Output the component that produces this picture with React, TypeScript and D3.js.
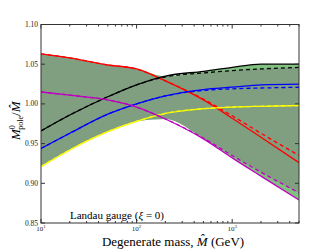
import React, { useRef, useEffect } from 'react';
import * as d3 from 'd3';

// degenerate mass samples (GeV)
const masses = [10, 20, 50, 100, 200, 500, 1000, 2000, 5000];

const redSolid = [1.063, 1.058, 1.049, 1.044, 1.029, 1.005, 0.982, 0.958, 0.926];
const redDashed = [1.063, 1.058, 1.049, 1.044, 1.029, 1.006, 0.985, 0.963, 0.935];
const blackSolid = [0.966, 0.986, 1.009, 1.024, 1.035, 1.041, 1.046, 1.050, 1.050];
const blackDashed = [0.966, 0.986, 1.009, 1.024, 1.034, 1.039, 1.042, 1.044, 1.046];
const blueSolid = [0.944, 0.963, 0.987, 1.0, 1.01, 1.018, 1.021, 1.024, 1.025];
const blueDashed = [0.944, 0.963, 0.987, 1.0, 1.01, 1.017, 1.019, 1.020, 1.021];
const yellowSolid = [0.921, 0.942, 0.965, 0.978, 0.988, 0.994, 0.996, 0.997, 0.998];
const yellowDashed = [0.921, 0.942, 0.965, 0.978, 0.988, 0.994, 0.996, 0.997, 0.998];
const magentaSolid = [1.015, 1.011, 1.005, 0.996, 0.981, 0.956, 0.932, 0.909, 0.879];
const magentaDashed = [1.015, 1.011, 1.005, 0.996, 0.981, 0.957, 0.935, 0.914, 0.888];

const yTicks = [0.85, 0.9, 0.95, 1.0, 1.05, 1.1];
const xTicks = [10, 100, 1000];
const xTickExp = ['1', '2', '3'];

const series = [
  { color: '#ff0000', solid: redSolid, dashed: redDashed },
  { color: '#000000', solid: blackSolid, dashed: blackDashed },
  { color: '#0000ff', solid: blueSolid, dashed: blueDashed },
  { color: '#ffff00', solid: yellowSolid, dashed: yellowDashed },
  { color: '#bf00bf', solid: magentaSolid, dashed: magentaDashed },
];

const Chart = () => {
  const ref = useRef<SVGSVGElement>(null);

  useEffect(() => {
    const svg = d3.select(ref.current);
    svg.selectAll('*').remove();
    const margin = { top: 24.5, right: 33, bottom: 26, left: 41 };
    const width = 332 - margin.left - margin.right;
    const height = 249 - margin.top - margin.bottom;

    const x = d3.scaleLog().domain([10, 5000]).range([0, width]);
    const y = d3.scaleLinear().domain([0.85, 1.1]).range([height, 0]);

    const g = svg.append('g').attr('transform', `translate(${margin.left},${margin.top})`);
    svg.append('defs').append('clipPath').attr('id', 'clip')
      .append('rect').attr('width', width).attr('height', height);

    const plot = g.append('g').attr('clip-path', 'url(#clip)');
    const curve = d3.curveMonotoneX;

    const band = (key: 'solid' | 'dashed') =>
      masses.map((m, i) => ({
        m,
        hi: d3.max(series, s => s[key][i]) as number,
        lo: d3.min(series, s => s[key][i]) as number,
      }));

    const area = d3.area<{ m: number; hi: number; lo: number }>()
      .x(d => x(d.m))
      .y0(d => y(d.lo))
      .y1(d => y(d.hi))
      .curve(curve);

    plot.append('path').attr('d', area(band('solid'))).attr('fill', '#80c080');
    plot.append('path').attr('d', area(band('dashed'))).attr('fill', '#7f9f80');

    const line = d3.line<number>()
      .x((_, i) => x(masses[i]))
      .y(d => y(d))
      .curve(curve);

    series.forEach(s => {
      plot.append('path').attr('d', line(s.dashed)).attr('fill', 'none')
        .attr('stroke', s.color).attr('stroke-width', 1.3).attr('stroke-dasharray', '4,3');
      plot.append('path').attr('d', line(s.solid)).attr('fill', 'none')
        .attr('stroke', s.color).attr('stroke-width', 1.3);
    });

    // frame
    g.append('rect').attr('width', width).attr('height', height)
      .attr('fill', 'none').attr('stroke', '#333').attr('stroke-width', 1);

    const tickColor = '#333';
    yTicks.forEach(t => {
      g.append('line').attr('x1', 0).attr('x2', 4).attr('y1', y(t)).attr('y2', y(t)).attr('stroke', tickColor);
      g.append('line').attr('x1', width).attr('x2', width - 4).attr('y1', y(t)).attr('y2', y(t)).attr('stroke', tickColor);
      g.append('text').attr('x', -3).attr('y', y(t) + 2.5).attr('text-anchor', 'end')
        .attr('font-size', 7.5).attr('font-family', 'Liberation Serif').attr('fill', '#222')
        .text(t.toFixed(2));
    });

    // x minor ticks
    const minors: number[] = [];
    for (let d = 10; d < 5000; d *= 10) {
      for (let k = 2; k <= 9; k++) if (d * k <= 5000) minors.push(d * k);
    }
    minors.forEach(t => {
      g.append('line').attr('x1', x(t)).attr('x2', x(t)).attr('y1', height).attr('y2', height - 2).attr('stroke', tickColor);
      g.append('line').attr('x1', x(t)).attr('x2', x(t)).attr('y1', 0).attr('y2', 2).attr('stroke', tickColor);
    });
    xTicks.forEach((t, i) => {
      g.append('line').attr('x1', x(t)).attr('x2', x(t)).attr('y1', height).attr('y2', height - 4).attr('stroke', tickColor);
      g.append('line').attr('x1', x(t)).attr('x2', x(t)).attr('y1', 0).attr('y2', 4).attr('stroke', tickColor);
      const tx = g.append('text').attr('x', x(t)).attr('y', height + 7.5).attr('text-anchor', 'middle')
        .attr('font-size', 7).attr('font-family', 'Liberation Serif').attr('fill', '#222');
      tx.append('tspan').text('10');
      tx.append('tspan').attr('dy', -3).attr('font-size', 5).text(xTickExp[i]);
    });

    // annotation
    const ann = g.append('text').attr('x', 29).attr('y', 194)
      .attr('font-size', 11).attr('font-family', 'Liberation Serif').attr('fill', '#000');
    ann.append('tspan').text('Landau gauge (');
    ann.append('tspan').attr('font-style', 'italic').text('ξ');
    ann.append('tspan').text(' = 0)');

    // x label
    const xl = svg.append('text').attr('x', margin.left + width / 2 + 3).attr('y', 245.5)
      .attr('text-anchor', 'middle').attr('font-size', 13).attr('font-family', 'Liberation Serif').attr('fill', '#000');
    xl.append('tspan').text('Degenerate mass, ');
    xl.append('tspan').attr('font-style', 'italic').text('M̂');
    xl.append('tspan').text(' (GeV)');

    // y label
    const yl = svg.append('text')
      .attr('transform', `translate(20,${margin.top + height / 2 - 3}) rotate(-90)`)
      .attr('text-anchor', 'middle').attr('font-size', 13).attr('font-family', 'Liberation Serif').attr('fill', '#000');
    yl.append('tspan').attr('font-style', 'italic').text('M');
    yl.append('tspan').attr('font-size', 8).attr('dy', -5).text('0');
    yl.append('tspan').attr('font-size', 8).attr('dx', -4.5).attr('dy', 8).text('pole');
    yl.append('tspan').attr('dy', -3).text('/');
    yl.append('tspan').attr('font-style', 'italic').text('M̂');
  }, []);

  return <svg ref={ref} width={332} height={249} style={{ display: 'block' }} />;
};

export default function App() {
  return (
    <div style={{ position: 'absolute', left: 0, top: 0 }}>
      <Chart />
    </div>
  );
}
